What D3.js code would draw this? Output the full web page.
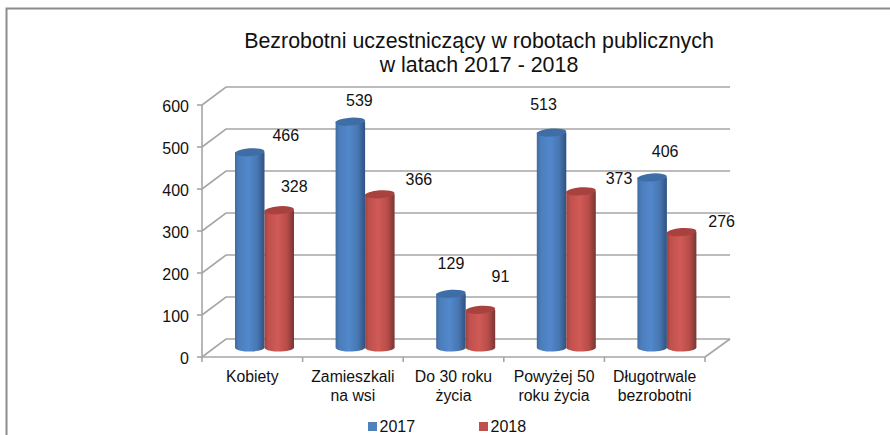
<!DOCTYPE html>
<html><head><meta charset="utf-8">
<script src="https://cdnjs.cloudflare.com/ajax/libs/d3/7.8.5/d3.min.js"></script>
<style>html,body{margin:0;padding:0;background:#fff}svg{display:block}text{font-family:"Liberation Sans",Arial,sans-serif;fill:#111}</style>
</head><body><svg id="c" width="890" height="435"></svg>
<script>
const categories=[["Kobiety"],["Zamieszkali","na wsi"],["Do 30 roku","życia"],["Powyżej 50","roku życia"],["Długotrwale","bezrobotni"]];
const seriesNames=["2017","2018"];
const values2017=[466,539,129,513,406];
const values2018=[328,366,91,373,276];
const labelOffsets2017=[[36,-11],[9,-16],[0,-25],[-8,-23],[13,-20]];
const labelOffsets2018=[[15,-18],[39,-9],[20,-28],[38,-7],[40,-5]];
const yTicks=[0,100,200,300,400,500,600];
const svg=d3.select("#c");
const defs=svg.append("defs");
function grad(id,stops){const g=defs.append("linearGradient").attr("id",id);stops.forEach(s=>g.append("stop").attr("offset",s[0]).attr("stop-color",s[1]));}
grad("b",[[0,"#3f6ba0"],[.12,"#4b7dba"],[.45,"#5288cc"],[.75,"#4877b2"],[1,"#2f5180"]]);
grad("r",[[0,"#9a4441"],[.12,"#bf504c"],[.45,"#d05a56"],[.75,"#b94d49"],[1,"#773533"]]);
const seriesColor=["#4f81bd","#c0504d"],topColor=["#3f6ea6","#a8423f"],seriesGrad=["url(#b)","url(#r)"];
svg.append("path").attr("d","M6.5,435V8.5H890").attr("fill","none").attr("stroke","#8c8c8c").attr("stroke-width",2);
const yFront=d3.scaleLinear().domain([0,600]).range([357,105]);
const yBack=d3.scaleLinear().domain([0,600]).range([339,87]);
const yBar=d3.scaleLinear().domain([0,600]).range([348,96]);
const xFront=d3.scaleBand().domain(d3.range(5)).range([202,705]);
const gridC="#a6a6a6";
yTicks.forEach(t=>{
 svg.append("path").attr("fill","none").attr("stroke",gridC).attr("stroke-width",1.6)
  .attr("d",`M202,${yFront(t)}L226,${yBack(t)}H730`);
});
svg.append("path").attr("fill","none").attr("stroke",gridC).attr("stroke-width",1.6).attr("d",`M705,357L730,339`);
svg.append("path").attr("fill","none").attr("stroke",gridC).attr("stroke-width",1.6).attr("d",`M202,${yFront(600)}V357H705`);
yTicks.forEach(t=>svg.append("line").attr("x1",197).attr("x2",202).attr("y1",yFront(t)).attr("y2",yFront(t)).attr("stroke",gridC).attr("stroke-width",1.6));
d3.range(6).forEach(i=>{const x=i<5?xFront(i):705;svg.append("line").attr("x1",x).attr("x2",x).attr("y1",357).attr("y2",362).attr("stroke",gridC).attr("stroke-width",1.6);});
svg.selectAll(".yl").data(yTicks).join("text").attr("x",189).attr("y",d=>yFront(d)+6.5).attr("text-anchor","end").attr("font-size",16).text(d=>d);
const barW=29.5,ry=4,off=[33,62.5];
[values2017,values2018].forEach((vals,s)=>{
 const g=svg.append("g");
 vals.forEach((v,i)=>{
  const x=xFront(i)+off[s],y0=yBar(0),y1=yBar(v);
  g.append("path").attr("fill",seriesGrad[s]).attr("d",`M${x},${y1}V${y0}A${barW/2},${ry} 0 0 0 ${x+barW},${y0-1}V${y1}Z`);
  g.append("ellipse").attr("cx",x+barW/2).attr("cy",y1).attr("rx",barW/2).attr("ry",ry).attr("fill",topColor[s]).attr("transform",`rotate(-4 ${x+barW/2} ${y1})`);
 });
});
const lab=(vals,offs,s)=>vals.forEach((v,i)=>{
 svg.append("text").attr("x",xFront(i)+off[s]+barW/2+offs[i][0]).attr("y",yBar(v)+offs[i][1]).attr("text-anchor","middle").attr("font-size",16).text(v);
});
lab(values2017,labelOffsets2017,0);
lab(values2018,labelOffsets2018,1);
categories.forEach((c,i)=>{
 const cx=xFront(i)+xFront.bandwidth()/2;
 c.forEach((t,j)=>svg.append("text").attr("x",cx).attr("y",382+j*18.5).attr("text-anchor","middle").attr("font-size",15.8).text(t));
});
[["Bezrobotni uczestniczący w robotach publicznych",48],["w latach 2017 - 2018",71.5]].forEach(d=>svg.append("text").attr("x",479).attr("y",d[1]).attr("text-anchor","middle").attr("font-size",21.4).text(d[0]));
seriesNames.forEach((n,i)=>{
 const x=368+i*111;
 svg.append("rect").attr("x",x).attr("y",422).attr("width",9).attr("height",9).attr("fill",seriesColor[i]);
 svg.append("text").attr("x",x+11.5).attr("y",432).attr("font-size",16).text(n);
});
</script></body></html>
